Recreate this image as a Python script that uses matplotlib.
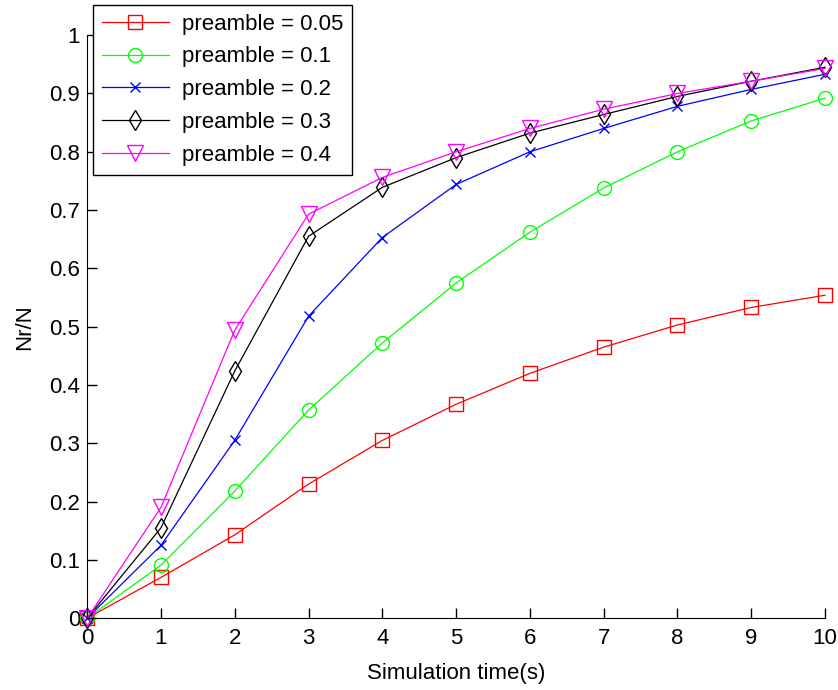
import matplotlib.pyplot as plt
import numpy as np

plt.rcParams['font.family'] = ['Liberation Sans', 'DejaVu Sans']

t = [0, 1, 2, 3, 4, 5, 6, 7, 8, 9, 10]
p005 = [0, 0.070, 0.143, 0.230, 0.305, 0.367, 0.420, 0.465, 0.503, 0.533, 0.554]
p01 = [0, 0.091, 0.218, 0.357, 0.472, 0.575, 0.662, 0.738, 0.800, 0.853, 0.892]
p02 = [0, 0.125, 0.305, 0.518, 0.653, 0.744, 0.800, 0.840, 0.878, 0.907, 0.933]
p03 = [0, 0.155, 0.424, 0.655, 0.739, 0.790, 0.832, 0.864, 0.895, 0.921, 0.945]
p04 = [0, 0.190, 0.494, 0.693, 0.756, 0.800, 0.840, 0.873, 0.900, 0.921, 0.943]

series = [
    (p005, 'preamble = 0.05', 'red', 's', 10),
    (p01, 'preamble = 0.1', '#00ff00', 'o', 10),
    (p02, 'preamble = 0.2', 'blue', 'x', 7),
    (p03, 'preamble = 0.3', 'black', 'd', 10),
    (p04, 'preamble = 0.4', 'magenta', 'v', 11),
]

fig = plt.figure(figsize=(8.38, 6.9), dpi=100)
ax = fig.add_axes([0.104, 0.104, 0.8805, 0.845])

for y, label, color, marker, ms in series:
    ax.plot(t, y, color=color, marker=marker, markersize=ms, markerfacecolor='none',
            markeredgecolor=color, linewidth=0.9, markeredgewidth=1.0, label=label,
            clip_on=False)

ax.set_xlim(0, 10)
ax.set_ylim(0, 1)
ax.set_xticks(np.arange(0, 11, 1))
ax.set_yticks(np.arange(0, 1.01, 0.1))
ax.set_yticklabels(['0', '0.1', '0.2', '0.3', '0.4', '0.5', '0.6', '0.7', '0.8', '0.9', '1'])
ax.tick_params(direction='in', labelsize=16, length=7, width=1)
ax.tick_params(axis='x', pad=7)
ax.tick_params(axis='y', pad=5)
ax.spines['top'].set_visible(False)
ax.spines['right'].set_visible(False)
ax.set_xlabel('Simulation time(s)', fontsize=16, labelpad=10)
ax.set_ylabel('Nr/N', fontsize=16, labelpad=10)

leg = ax.legend(loc='upper left', bbox_to_anchor=(0.111, 0.993), bbox_transform=fig.transFigure,
                borderaxespad=0, fontsize=16, fancybox=False, edgecolor='black', framealpha=1,
                handlelength=3.0, handletextpad=0.6, borderpad=0.4, labelspacing=0.53)
leg.get_frame().set_linewidth(1.0)

fig.savefig('out.png', dpi=100)
